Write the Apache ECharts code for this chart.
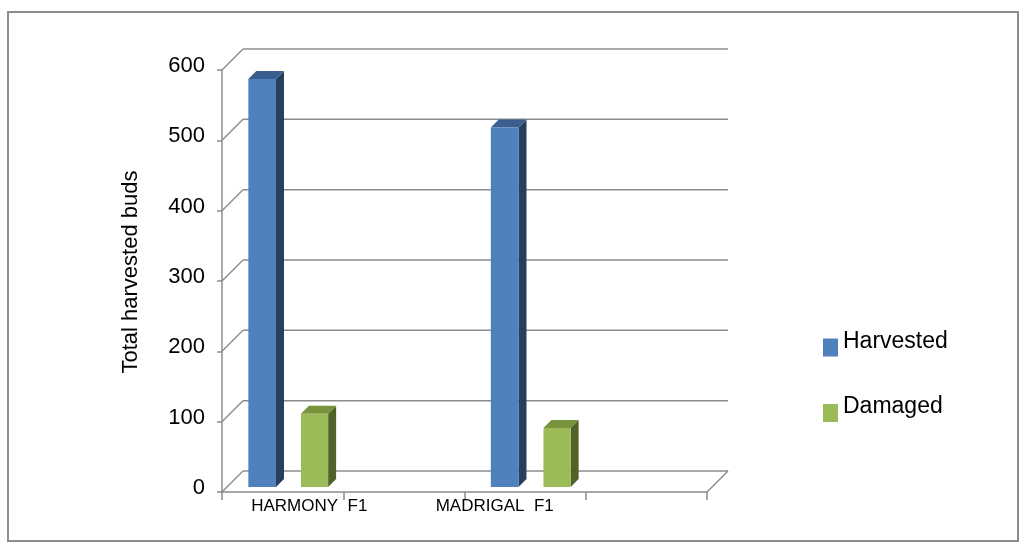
<!DOCTYPE html>
<html><head><meta charset="utf-8">
<script src="https://cdn.jsdelivr.net/npm/echarts@6/dist/echarts.min.js"></script>
<style>html,body{margin:0;padding:0;background:#fff}#c{width:1024px;height:558px}</style>
</head><body><div id="c"></div>
<script>
const categories = ['HARMONY  F1', 'MADRIGAL  F1'];
const harvested = [580, 511];
const damaged = [104, 84];
const yTicks = [0, 100, 200, 300, 400, 500, 600];
const seriesNames = ['Harvested', 'Damaged'];

const FONT = '"Liberation Sans", Arial, sans-serif';
const WALL = 21;   // back-wall depth (px)
const BAR_D = 8;   // bar depth (px)
const BAR_Z = 5;   // bar front plane offset (px)
const GRID_C = '#8c8c8c';

function barRenderer(offsetFrac, widthFrac, front, top, side) {
  return function (params, api) {
    const i = api.value(0), v = api.value(1);
    const c = api.coord([i, v]);
    const b = api.coord([i, 0]);
    const bw = api.size([1, 0])[0];
    const x0 = c[0] + offsetFrac * bw + BAR_Z;
    const w = widthFrac * bw;
    const yt = c[1] - BAR_Z, yb = b[1] - BAR_Z;
    return {
      type: 'group',
      children: [
        { type: 'polygon', shape: { points: [[x0 + w, yt], [x0 + w + BAR_D, yt - BAR_D], [x0 + w + BAR_D, yb - BAR_D], [x0 + w, yb]] }, style: { fill: side } },
        { type: 'polygon', shape: { points: [[x0, yt], [x0 + BAR_D, yt - BAR_D], [x0 + w + BAR_D, yt - BAR_D], [x0 + w, yt]] }, style: { fill: top } },
        { type: 'rect', shape: { x: x0, y: yt, width: w, height: yb - yt }, style: { fill: front } }
      ]
    };
  };
}

function wallRenderer(params, api) {
  const v = api.value(0);
  const l = api.coord([0, v]);
  const r = api.coord([4, v]);
  const children = [
    { type: 'line', shape: { x1: l[0], y1: l[1], x2: l[0] + WALL, y2: l[1] - WALL }, style: { stroke: GRID_C, lineWidth: 1.5 } },
    { type: 'line', shape: { x1: l[0] + WALL, y1: l[1] - WALL, x2: r[0] + WALL, y2: r[1] - WALL }, style: { stroke: GRID_C, lineWidth: 1.5 } }
  ];
  if (v === 0) {
    children.push({ type: 'line', shape: { x1: r[0], y1: r[1], x2: r[0] + WALL, y2: r[1] - WALL }, style: { stroke: GRID_C, lineWidth: 1.5 } });
  }
  return { type: 'group', children };
}

const chart = echarts.init(document.getElementById('c'), null, { renderer: 'canvas' });
chart.setOption({
  backgroundColor: '#fff',
  animation: false,
  textStyle: { fontFamily: FONT },
  graphic: [{
    type: 'rect', shape: { x: 8, y: 12, width: 1010, height: 529 },
    style: { fill: 'none', stroke: '#8c8c8c', lineWidth: 2 }, z: -10
  }],
  grid: { left: 222, right: 317, top: 70, bottom: 66, containLabel: false },
  legend: {
    data: seriesNames, orient: 'vertical', left: 818, top: 325,
    itemWidth: 15, itemHeight: 18, itemGap: 39, icon: 'rect',
    formatter: name => '{t|' + name + '}',
    textStyle: {
      fontSize: 23, color: '#000', fontFamily: FONT,
      rich: { t: { fontSize: 23, color: '#000', fontFamily: FONT, padding: [0, 0, 12, 0] } }
    }
  },
  xAxis: [{
    type: 'category', data: categories, position: 'bottom',
    axisLine: { show: true, lineStyle: { color: GRID_C, width: 1.5 } },
    axisTick: { show: false },
    axisLabel: {
      color: '#000', fontSize: 17, margin: 6, fontFamily: FONT,
      formatter: (v, i) => '{c' + i + '|' + v + '}',
      rich: { c0: { padding: [0, 68, 0, 0], fontSize: 17 }, c1: { padding: [0, 182, 0, 0], fontSize: 17 } }
    },
    splitLine: { show: false }
  }, {
    type: 'value', min: 0, max: 4, interval: 1, position: 'bottom',
    axisLine: { show: false },
    axisTick: { show: true, length: 8, lineStyle: { color: GRID_C, width: 1.5 } },
    axisLabel: { show: false }, splitLine: { show: false }
  }],
  yAxis: {
    type: 'value', min: 0, max: 600, interval: 100,
    name: 'Total harvested buds', nameLocation: 'middle', nameRotate: 90, nameGap: 80,
    nameTextStyle: { fontSize: 22, color: '#000', fontFamily: FONT, padding: [0, 0, 0, 18] },
    axisLine: { show: true, lineStyle: { color: GRID_C, width: 1.5 } },
    axisTick: { show: true, length: 5, lineStyle: { color: GRID_C, width: 1.5 } },
    axisLabel: {
      color: '#000', fontSize: 22, margin: 17, fontFamily: FONT,
      formatter: v => '{t|' + v + '}',
      rich: { t: { fontSize: 22, color: '#000', padding: [0, 0, 8, 0] } }
    },
    splitLine: { show: false }
  },
  series: [
    {
      type: 'custom', name: 'wall', xAxisIndex: 1, z: 1, silent: true,
      data: yTicks.map(v => [v]), encode: { y: 0 },
      renderItem: wallRenderer
    },
    {
      type: 'custom', name: seriesNames[0], xAxisIndex: 0, z: 3,
      itemStyle: { color: '#4F81BD' },
      data: harvested.map((v, i) => [i, v]),
      renderItem: barRenderer(-0.412, 0.114, '#4F81BD', '#3A5F8E', '#263F5F')
    },
    {
      type: 'custom', name: seriesNames[1], xAxisIndex: 0, z: 3,
      itemStyle: { color: '#9BBB59' },
      data: damaged.map((v, i) => [i, v]),
      renderItem: barRenderer(-0.195, 0.112, '#9BBB59', '#77933C', '#4F6228')
    }
  ]
});
</script></body></html>
